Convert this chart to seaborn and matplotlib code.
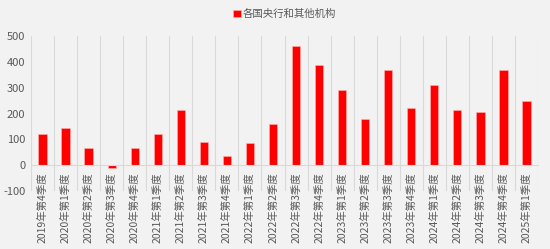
import matplotlib
matplotlib.use("Agg")
import matplotlib.pyplot as plt
import seaborn as sns
import pandas as pd
import numpy as np

categories = ["2019年第4季度", "2020年第1季度", "2020年第2季度", "2020年第3季度", "2020年第4季度",
              "2021年第1季度", "2021年第2季度", "2021年第3季度", "2021年第4季度", "2022年第1季度",
              "2022年第2季度", "2022年第3季度", "2022年第4季度", "2023年第1季度", "2023年第2季度",
              "2023年第3季度", "2023年第4季度", "2024年第1季度", "2024年第2季度", "2024年第3季度",
              "2024年第4季度", "2025年第1季度"]
values = [119, 142, 65, -10, 65, 119, 213, 90, 37, 84, 159, 461, 386, 291, 180, 368,
          221, 311, 213, 204, 368, 248]
series_name = "各国央行和其他机构"
yticks = [-100, 0, 100, 200, 300, 400, 500]

sns.set_theme(style="white")
plt.rcParams['font.family'] = ['Noto Sans CJK SC', 'DejaVu Sans']

df = pd.DataFrame({"季度": categories, "值": values, "系列": series_name})

fig = plt.figure(figsize=(5.5, 2.49), dpi=100, facecolor="#f2f2f2")
ax = fig.add_axes([31/550, 1-191/249, (538-31)/550, (191-36)/249])
ax.set_facecolor("#f2f2f2")

sns.barplot(data=df, x="季度", y="值", hue="系列", palette=["#ff0000"], saturation=1,
            width=0.36, ax=ax, edgecolor="#ffb3b3", linewidth=0.4, legend=True)

for s in ["top", "right", "left"]:
    ax.spines[s].set_visible(False)
ax.spines["bottom"].set_position(("data", 0))
ax.spines["bottom"].set_color("#d9d9d9")
ax.spines["bottom"].set_linewidth(0.8)

n = len(categories)
ax.set_xlim(-0.5, n - 0.5)
ax.set_ylim(-100, 500)
ax.set_yticks(yticks)
ax.set_yticklabels([str(t) for t in yticks], fontsize=8, color="#595959")
ax.set_xticks(range(n))
ax.set_xticklabels(categories, rotation=90, fontsize=7.5, color="#595959")
ax.tick_params(axis="x", length=0, pad=5)
ax.tick_params(axis="y", length=0, pad=4)
ax.set_xticks(np.arange(-0.5, n, 1.0), minor=True)
ax.tick_params(axis="x", which="minor", length=0)
ax.grid(which="minor", axis="x", color="#d9d9d9", linewidth=0.8)
ax.grid(which="major", axis="x", visible=False)
ax.set_axisbelow(True)
ax.set_xlabel("")
ax.set_ylabel("")

leg = ax.legend(loc="upper center", bbox_to_anchor=(0.5, 1.2), ncol=1, frameon=False,
                fontsize=7.5, handlelength=0.7, handleheight=0.7, handletextpad=0.15,
                borderaxespad=0)
for t in leg.get_texts():
    t.set_color("#595959")

fig.savefig("out.png", dpi=100, facecolor="#f2f2f2")
